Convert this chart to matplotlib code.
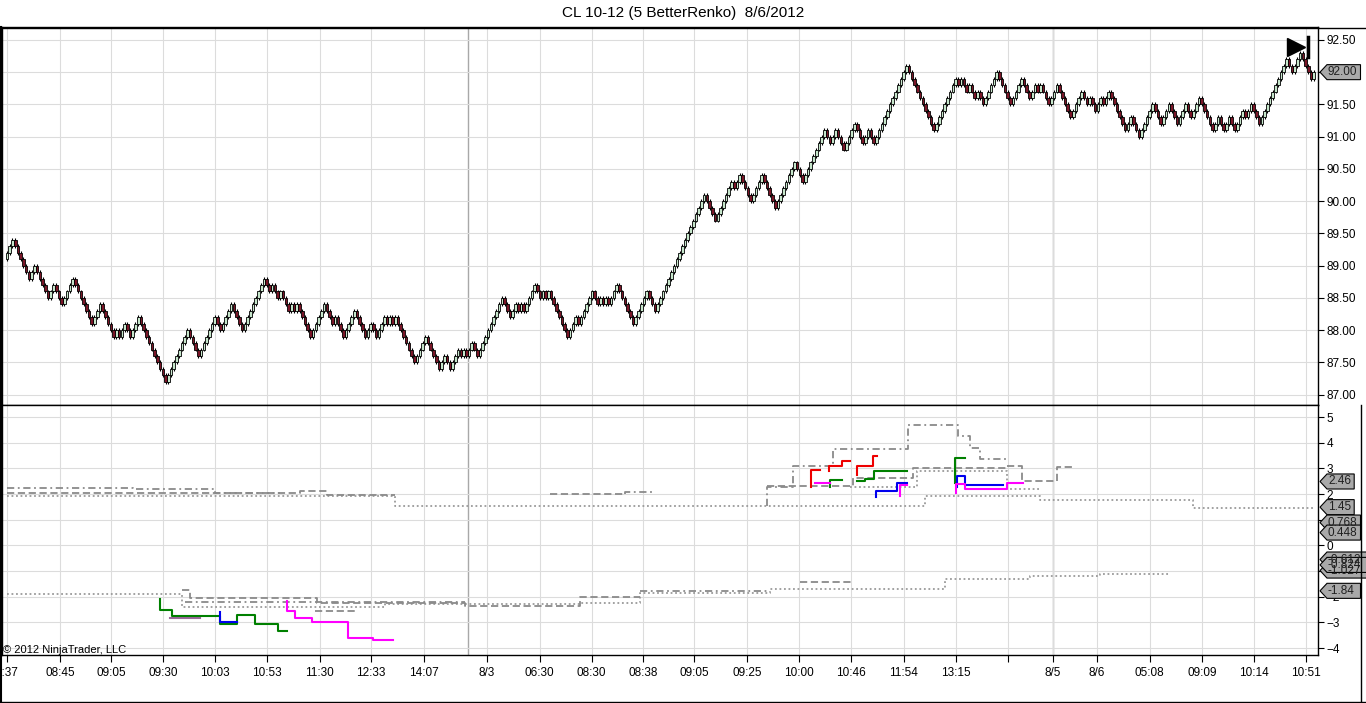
import numpy as np
import matplotlib
matplotlib.use('Agg')
import matplotlib.pyplot as plt
from matplotlib.patches import Polygon
from matplotlib.lines import Line2D
from matplotlib.transforms import blended_transform_factory

plt.rcParams['font.family'] = ['Liberation Sans', 'DejaVu Sans']

# ---- data ----
title = 'CL 10-12 (5 BetterRenko)  8/6/2012'
brick = 0.10
last_price = 92.00
last_slot = 25.15   # position of the last brick in tick-slot units

# swing points of the renko price (in order)
pivots = [89.20, 89.45, 88.80, 89.04, 88.47, 88.69, 88.36,
          88.79, 88.11, 88.44, 87.85, 88.04, 87.85, 88.08, 87.88, 88.24,
          87.24, 87.80, 87.77, 88.02, 87.59,
          88.17, 88.00, 88.36, 87.97, 88.80, 88.60, 88.70, 88.50, 88.60, 88.30,
          88.40, 88.30, 88.40, 87.90, 88.40, 88.10, 88.20, 87.90,
          88.30, 87.90, 88.10, 87.90, 88.20, 88.10, 88.20, 88.10,
          88.20, 87.50, 87.90, 87.40, 87.60, 87.40, 87.70, 87.60,
          87.70, 87.60, 87.80, 87.60, 88.50, 88.20, 88.40, 88.30, 88.40, 88.30,
          88.70, 88.50, 88.60, 88.50, 88.60, 87.90, 88.20, 88.10, 88.60, 88.40,
          88.50, 88.40, 88.50, 88.40, 88.70, 88.10, 88.60, 88.30,
          90.10, 89.90, 89.95, 89.66, 90.30, 90.17,
          90.39, 90.02, 90.36, 89.94, 90.61, 90.25, 91.07, 90.90,
          91.15, 90.84, 91.21, 90.90, 91.10, 90.90, 91.46,
          92.07, 91.10, 91.90, 91.80, 91.90, 91.66, 91.79, 91.69, 91.75,
          91.60, 91.72, 91.51, 91.99, 91.52, 91.88, 91.57, 91.80, 91.65, 91.76,
          91.49, 91.76, 91.30, 91.68, 91.49, 91.62, 91.41, 91.60, 91.49, 91.72,
          91.49, 91.55, 91.14, 91.33, 90.98, 91.54, 91.21, 91.46, 91.23, 91.49,
          91.29, 91.62, 91.10, 91.29, 91.06, 91.29, 91.20, 91.06, 91.45, 91.29,
          91.54, 91.17, 92.24, 92.03, 92.27, 91.88, 92.03, 92.00]

tick_pos = [0, 1.02, 2.0, 3.0, 4.0, 5.0, 6.02, 7.0, 8.03, 9.24, 10.25, 11.25, 12.24,
            13.22, 14.24, 15.24, 16.25, 17.26, 18.27, 19.27, 20.13, 20.98, 21.99,
            23.0, 24.0, 25.0]
tick_lbl = ['8:37', '08:45', '09:05', '09:30', '10:03', '10:53', '11:30', '12:33',
            '14:07', '8/3', '06:30', '08:30', '08:38', '09:05', '09:25', '10:00',
            '10:46', '11:54', '13:15', '', '8/5', '8/6', '05:08', '09:09', '10:14',
            '10:51']
day_breaks = [8.87, 20.13]

# lower panel indicator lines: (x in slots, value)
grey_dashdot = [
    [(0, 2.25), (2.42, 2.25), (2.42, 2.19), (4.00, 2.19), (4.00, 2.03), (5.25, 2.03)],
    [(11.89, 2.01), (11.89, 2.09), (12.47, 2.09)],
    [(14.63, 1.55), (14.63, 2.26), (15.13, 2.26), (15.13, 3.08), (15.90, 3.08),
     (15.90, 3.76), (17.34, 3.76), (17.34, 4.71), (18.30, 4.71), (18.30, 4.25),
     (18.53, 4.25), (18.53, 3.80), (18.73, 3.80), (18.73, 3.37), (19.25, 3.37)],
    [(3.43, -2.19), (8.81, -2.19)],
    [(12.18, -1.77), (14.68, -1.77)],
]
grey_dashed = [
    [(0, 2.04), (5.64, 2.04), (5.64, 2.13), (6.16, 2.13), (6.16, 1.95), (7.47, 1.95)],
    [(10.45, 2.01), (11.89, 2.01)],
    [(14.63, 2.30), (16.28, 2.30), (16.28, 2.62), (17.44, 2.62), (17.44, 3.02),
     (19.25, 3.02), (19.25, 3.08), (19.53, 3.08), (19.53, 2.49), (20.21, 2.49),
     (20.21, 3.05), (20.50, 3.05)],
    [(3.37, -1.75), (3.52, -1.75), (3.52, -2.06), (5.97, -2.06), (5.97, -2.26),
     (8.81, -2.26), (8.81, -2.35), (11.03, -2.35), (11.03, -2.00), (12.18, -2.00)],
    [(5.93, -2.56), (6.70, -2.56)],
    [(15.26, -1.43), (16.28, -1.43)],
]
grey_dotted = [
    [(0, 1.91), (7.47, 1.91), (7.47, 1.52), (17.67, 1.52), (17.67, 1.91), (19.88, 1.91),
     (19.88, 1.75), (22.83, 1.75), (22.83, 1.45), (25.17, 1.45)],
    [(16.22, 2.27), (17.51, 2.27), (17.51, 2.90), (19.25, 2.90), (19.25, 2.20), (19.88, 2.20)],
    [(0, -1.89), (3.37, -1.89), (3.37, -2.39), (7.27, -2.39), (7.27, -2.30), (11.03, -2.30),
     (11.03, -2.25), (12.18, -2.25), (12.18, -1.85), (14.68, -1.85), (14.68, -1.70),
     (18.05, -1.70), (18.05, -1.31), (19.69, -1.31), (19.69, -1.19), (21.04, -1.19),
     (21.04, -1.11), (22.38, -1.11)],
]
red_lines = [
    [(15.47, 2.26), (15.47, 2.95), (15.65, 2.95)],
    [(15.82, 2.88), (15.82, 3.10), (16.07, 3.10), (16.07, 3.30), (16.22, 3.30)],
    [(16.36, 2.75), (16.36, 3.10), (16.67, 3.10), (16.67, 3.50), (16.74, 3.50)],
]
green_lines = [
    [(15.84, 2.26), (15.84, 2.56), (16.07, 2.56)],
    [(16.36, 2.50), (16.51, 2.50), (16.51, 2.60), (16.69, 2.60), (16.69, 2.91), (17.32, 2.91)],
    [(18.24, 2.45), (18.24, 3.40), (18.44, 3.40)],
    [(2.94, -2.09), (2.94, -2.52), (3.18, -2.52), (3.18, -2.74), (4.10, -2.74), (4.10, -3.08),
     (4.43, -3.08), (4.43, -2.72), (4.77, -2.72), (4.77, -3.06), (5.22, -3.06), (5.22, -3.34),
     (5.39, -3.34)],
]
blue_lines = [
    [(16.72, 1.87), (16.72, 2.13), (17.13, 2.13), (17.13, 2.45), (17.32, 2.45)],
    [(18.28, 2.26), (18.28, 2.69), (18.44, 2.69), (18.44, 2.36), (19.17, 2.36)],
    [(4.10, -2.60), (4.10, -2.99), (4.43, -2.99)],
]
magenta_lines = [
    [(15.56, 2.43), (15.84, 2.43)],
    [(17.19, 1.93), (17.19, 2.36), (17.32, 2.36)],
    [(18.26, 2.05), (18.26, 2.40), (18.44, 2.40), (18.44, 2.21), (19.25, 2.21), (19.25, 2.43),
     (19.55, 2.43)],
    [(5.39, -2.17), (5.39, -2.56), (5.54, -2.56), (5.54, -2.84), (5.87, -2.84), (5.87, -2.98),
     (6.56, -2.98), (6.56, -3.60), (7.04, -3.60), (7.04, -3.69), (7.43, -3.69)],
]
purple_lines = [[(3.14, -2.82), (3.71, -2.82)]]

# value tags on the right of the lower panel (hidden ones first)
tag_text = ['-0.612', '-1.027', '2.46', '1.45', '0.768', '0.448', '-0.824', '-1.84']
tag_pos = [-0.55, -0.98, 2.49, 1.49, 0.89, 0.50, -0.76, -1.77]

# ---- build renko bricks ----
step = int(round(brick * 100))
cents = [int(round(pivots[0] * 100))]
for p in pivots[1:]:
    t = int(round(p * 100))
    cur = cents[-1]
    while abs(t - cur) > step // 2:
        cur += step if t > cur else -step
        cents.append(cur)
closes = np.array(cents) / 100.0
opens = np.r_[closes[0] - brick, closes[:-1]]
xs = np.linspace(0, last_slot, len(closes))
w = (xs[1] - xs[0]) * 0.95
up = closes > opens

W, H = 1366, 703
fig = plt.figure(figsize=(W / 100, H / 100), dpi=100)
ax1 = fig.add_axes([2 / W, 1 - 405 / H, 1316 / W, 378 / H])
ax2 = fig.add_axes([2 / W, 1 - 655 / H, 1316 / W, 250 / H])

xlim = (-5 / 51.96, (1318 - 7) / 51.96)
for ax in (ax1, ax2):
    ax.set_xlim(*xlim)
    ax.set_xticks(tick_pos)
    ax.grid(True, color='#dcdcdc', lw=0.8)
    ax.set_axisbelow(True)
    for d in day_breaks:
        ax.axvline(d, color='#a8a8a8', lw=1, zorder=0.5)
    ax.yaxis.tick_right()
    ax.tick_params(axis='y', direction='out', length=4, pad=2, labelsize=8.5)
    for s in ax.spines.values():
        s.set_color('black')
        s.set_linewidth(1)

ax1.tick_params(axis='x', length=0, labelbottom=False)
ax2.set_xticklabels(tick_lbl)
ax2.tick_params(axis='x', direction='out', length=5, pad=4, labelsize=8.5)

# price panel
ax1.set_ylim(86.84, 92.70)
ax1.set_yticks(np.arange(87.0, 92.51, 0.5))
ax1.set_yticklabels(['%.2f' % v for v in np.arange(87.0, 92.51, 0.5)])
lo = np.minimum(opens, closes)
hi = np.maximum(opens, closes)
ax1.vlines(xs, lo - 0.3 * brick, hi + 0.3 * brick, color='black', lw=0.8, zorder=2)
ax1.bar(xs[up], brick, bottom=opens[up], width=w, color='#c6e6cb',
        edgecolor='black', linewidth=0.6, zorder=3)
ax1.bar(xs[~up], brick, bottom=closes[~up], width=w, color='#7a1628',
        edgecolor='black', linewidth=0.6, zorder=3)

# end-of-chart marker
ax1.plot([0.983], [0.947], marker='>', ms=13, color='black', transform=ax1.transAxes,
         clip_on=False)
ax1.plot([0.9925, 0.9925], [0.921, 0.974], color='black', lw=2.5, transform=ax1.transAxes)

# indicator panel
ax2.set_ylim(-4.27, 5.47)
ax2.set_yticks(range(-4, 6))


def draw(lines, color, ls, lw):
    for seg in lines:
        x, y = zip(*seg)
        ax2.plot(x, y, color=color, ls=ls, lw=lw, zorder=3)


draw(grey_dotted, '#9a9a9a', (0, (1, 1.5)), 1.3)
draw(grey_dashed, '#8a8a8a', (0, (4, 2)), 1.3)
draw(grey_dashdot, '#8a8a8a', (0, (4, 2, 1, 2)), 1.3)
draw(purple_lines, '#9a6a9a', '-', 1.5)
draw(red_lines, '#ee0000', '-', 1.5)
draw(green_lines, '#008000', '-', 1.5)
draw(blue_lines, '#0000ee', '-', 1.5)
draw(magenta_lines, '#ff00ff', '-', 1.5)


def tag(ax, yv, text, ppu):
    tr = blended_transform_factory(ax.transAxes, ax.transData)
    px = 1 / 1316
    h = 7.5 / ppu
    tip = 1 + 2 * px
    end = tip + (9 + 6.3 * len(text)) * px
    poly = Polygon([(tip, yv), (tip + 7 * px, yv + h), (end, yv + h), (end, yv - h),
                    (tip + 7 * px, yv - h)], closed=True, transform=tr, clip_on=False,
                   facecolor='#a9a9a9', edgecolor='black', lw=0.8, zorder=5)
    ax.add_patch(poly)
    ax.text(tip + 8 * px, yv, text, transform=tr, ha='left', va='center', fontsize=8.5,
            clip_on=False, zorder=6, color='#202020')


tag(ax1, last_price, '%.2f' % last_price, 64.5)
for v, t in zip(tag_pos, tag_text):
    tag(ax2, v, t, 25.6)

# texts and frame
fig.text(0.5, 1 - 13 / H, title, ha='center', va='center', fontsize=11)
fig.text(3 / W, 1 - 650 / H, '\u00a9 2012 NinjaTrader, LLC', ha='left', va='center',
         fontsize=8)
fig.add_artist(Line2D([0, 1], [1 - 27.5 / H] * 2, color='black', lw=1))
fig.add_artist(Line2D([0, 1], [0.7 / H] * 2, color='black', lw=1))
fig.add_artist(Line2D([1 / W] * 2, [0, 1 - 27 / H], color='black', lw=1.5))
fig.add_artist(Line2D([1361 / W] * 2, [0, 1 - 405 / H], color='black', lw=1))

fig.savefig('out.png', dpi=100)
